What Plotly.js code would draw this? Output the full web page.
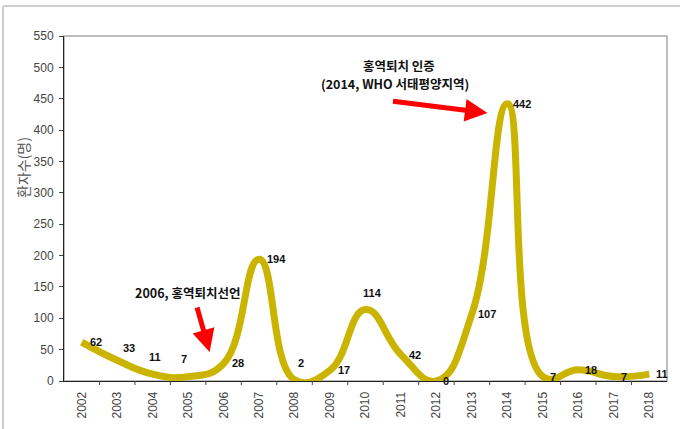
<!DOCTYPE html>
<html>
<head>
<meta charset="utf-8">
<script src="https://cdn.plot.ly/plotly-3.0.1.min.js"></script>
<style>html,body{margin:0;padding:0;background:#fff;}#chart{width:680px;height:429px;}</style>
</head>
<body>
<div id="chart"></div>
<script>
var years = ['2002','2003','2004','2005','2006','2007','2008','2009','2010','2011','2012','2013','2014','2015','2016','2017','2018'];
var cases = [62,33,11,7,28,194,2,17,114,42,0,107,442,7,18,7,11];
var yTicks = [0,50,100,150,200,250,300,350,400,450,500,550];
var yTitle = '환자수(명)';
var note1 = '2006, 홍역퇴치선언';
var note2a = '홍역퇴치 인증';
var note2b = '(2014, WHO 서태평양지역)';

// label offsets in px (right, up) relative to each point
var labelDx = [14,12,2,-4,14,17,6,14,7,14,10,15,15,10,13,10,13];
var labelDy = [0,12,17,18,0,0,17,0,16,0,0,0,0,0,0,0,0];

var numFont = 'Liberation Sans, Arial, sans-serif';
var krFont = 'Noto Sans CJK KR, sans-serif';

var trace = {
  x: years.map(function(_, i){return i;}),
  y: cases,
  type: 'scatter',
  mode: 'lines',
  line: {color: '#cbb400', width: 7, shape: 'spline', smoothing: 1.3},
  hoverinfo: 'skip'
};

var annotations = cases.map(function(v, i){
  return {x: i, y: v, xref: 'x', yref: 'y', text: String(v), showarrow: false,
    xshift: labelDx[i], yshift: labelDy[i],
    font: {family: numFont, size: 11, color: '#111', weight: 'bold'}};
});

annotations.push({x: (188-82)/35.5, y: (381-292)/0.6273, xref:'x', yref:'y', text: '<b>'+note1+'</b>', showarrow:false,
  font:{family: krFont, size: 12.5, color:'#111'}});
annotations.push({x: (400-82)/35.5, y: (381-65)/0.6273, xref:'x', yref:'y', text: '<b>'+note2a+'</b>', showarrow:false,
  font:{family: krFont, size: 12.5, color:'#111'}});
annotations.push({x: (396-82)/35.5, y: (381-83)/0.6273, xref:'x', yref:'y', text: '<b>'+note2b+'</b>', showarrow:false,
  font:{family: krFont, size: 12.5, color:'#111'}});
// arrows
annotations.push({x: (210-82)/35.5, y: (381-352)/0.6273, ax: (197-82)/35.5, ay: (381-306)/0.6273,
  xref:'x', yref:'y', axref:'x', ayref:'y', text:'', showarrow:true, arrowhead:2, arrowsize:0.9, arrowwidth:5, arrowcolor:'#ff0000', standoff:0});
annotations.push({x: (488-82)/35.5, y: (381-113)/0.6273, ax: (392-82)/35.5, ay: (381-101)/0.6273,
  xref:'x', yref:'y', axref:'x', ayref:'y', text:'', showarrow:true, arrowhead:2, arrowsize:0.9, arrowwidth:5, arrowcolor:'#ff0000', standoff:0});
// y title
annotations.push({x: (23-64)/603, y: (381-168)/345, xref:'paper', yref:'paper', xanchor:'center', yanchor:'middle',
  text: yTitle, textangle:-90, showarrow:false,
  font:{family: krFont, size: 14, color:'#555'}});

var layout = {
  width: 680, height: 429,
  margin: {l: 64, r: 13, t: 36, b: 48, pad: 0},
  paper_bgcolor: '#fff', plot_bgcolor: '#fff',
  showlegend: false,
  xaxis: {
    type: 'linear', range: [-0.5, 16.5],
    tickmode: 'array', tickvals: years.map(function(_, i){return i;}), ticktext: years,
    tickangle: -90, showgrid: false, zeroline: false,
    showline: true, linecolor: '#222', linewidth: 1,
    ticks: '', ticklabelstandoff: 5, tickfont: {family: numFont, size: 12, color: '#444'}
  },
  yaxis: {
    range: [0, 550], tickmode: 'array', tickvals: yTicks,
    showgrid: false, zeroline: false, showline: true, linecolor: '#222', linewidth: 1,
    ticks: 'outside', ticklen: 4, tickcolor: '#444', ticklabelstandoff: 3,
    tickfont: {family: numFont, size: 12, color: '#444'}
  },
  shapes: [
    {type:'rect', xref:'paper', yref:'paper', x0:0, x1:1, y0:0, y1:1, line:{color:'#a8a8a8', width:1.5}, layer:'below'},
    {type:'line', xref:'paper', yref:'paper', x0:(3-64)/603, x1:(680-64)/603, y0:(381-6)/345, y1:(381-6)/345, line:{color:'#cfcfcf', width:2}},
    {type:'line', xref:'paper', yref:'paper', x0:(3-64)/603, x1:(3-64)/603, y0:(381-6)/345, y1:(381-429)/345, line:{color:'#cfcfcf', width:2}}
  ].concat(years.map(function(_, i){
    return {type:'line', xref:'x', yref:'paper', x0:i+0.5, x1:i+0.5, y0:0, y1:-4/345, line:{color:'#444', width:1}};
  }).slice(0, 16)),
  annotations: annotations
};

Plotly.newPlot('chart', [trace], layout, {displayModeBar: false, staticPlot: true});
</script>
</body>
</html>
